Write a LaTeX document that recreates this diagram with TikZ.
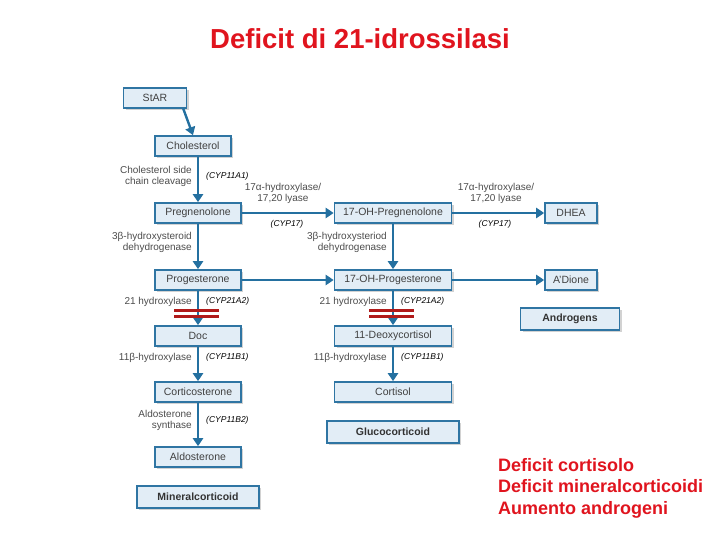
\documentclass[tikz,border=0pt]{standalone}
\usepackage{fontspec}
\setmainfont{Liberation Sans}
\usetikzlibrary{arrows.meta,shadows}
\definecolor{bx}{HTML}{E2EDF6}
\definecolor{bd}{HTML}{2F75A3}
\definecolor{ar}{HTML}{2470A0}
\definecolor{rd}{HTML}{B01A1A}
\definecolor{tr}{HTML}{E0141E}
\begin{document}
\begin{tikzpicture}[x=1pt,y=-1pt,
 box/.style={draw=bd,line width=1.6pt,fill=bx,minimum height=20pt,inner sep=0pt,font=\fontsize{10.5}{11}\selectfont,text=black!75,drop shadow={shadow xshift=2pt,shadow yshift=-2pt,fill=black!35}},
 bbox/.style={box,minimum height=22pt,font=\bfseries\fontsize{10.5}{11}\selectfont,text=black!80},
 arr/.style={-{Triangle[length=8pt,width=10pt]},ar,line width=2.4pt},
 lab/.style={font=\fontsize{10}{11}\selectfont,text=black!70,align=right,inner sep=1pt},
 labc/.style={lab,align=center},
 cyp/.style={font=\itshape\fontsize{8.5}{9}\selectfont,inner sep=1pt},
 bar/.style={rd,line width=3pt}]
\useasboundingbox (0,0) rectangle (720,540);
\node[font=\bfseries\fontsize{27.5}{29}\selectfont,text=tr] (t) at (360,39) {Deficit di 21-idrossilasi};
\node[box,minimum width=63pt] (star) at (155,98) {StAR};
\node[box,minimum width=76pt] (chol) at (193,146) {Cholesterol};
\node[box,minimum width=86pt] (preg) at (198,213) {Pregnenolone};
\node[box,minimum width=86pt] (prog) at (198,280) {Progesterone};
\node[box,minimum width=86pt] (doc) at (198,336) {Doc};
\node[box,minimum width=86pt] (cort) at (198,392) {Corticosterone};
\node[box,minimum width=86pt] (aldo) at (198,457) {Aldosterone};
\node[bbox,minimum width=122pt] (mc) at (198,497) {Mineralcorticoid};
\node[box,minimum width=117pt] (ohpreg) at (393,213) {17-OH-Pregnenolone};
\node[box,minimum width=117pt] (ohprog) at (393,280) {17-OH-Progesterone};
\node[box,minimum width=117pt] (deoxy) at (393,336) {11-Deoxycortisol};
\node[box,minimum width=117pt] (cortisol) at (393,392) {Cortisol};
\node[bbox,minimum width=132pt] (gc) at (393,432) {Glucocorticoid};
\node[box,minimum width=52pt] (dhea) at (571,213) {DHEA};
\node[box,minimum width=52pt] (adione) at (571,280) {A'Dione};
\node[bbox,minimum width=99pt] (andr) at (570,319) {Androgens};
\draw[arr] (star.south east) ++(-4,0) -- (chol.north);
\draw[arr] (chol.south) ++(5,0) coordinate (c1) -- (c1 |- preg.north);
\draw[arr] (preg) -- (prog);
\draw[arr] (prog) -- (doc);
\draw[arr] (doc) -- (cort);
\draw[arr] (cort) -- (aldo);
\draw[arr] (ohpreg) -- (ohprog);
\draw[arr] (ohprog) -- (deoxy);
\draw[arr] (deoxy) -- (cortisol);
\draw[arr] (preg) -- (ohpreg);
\draw[arr] (prog) -- (ohprog);
\draw[arr] (ohpreg) -- (dhea);
\draw[arr] (ohprog) -- (adione);
\draw[bar] (174,310) -- (219,310); \draw[bar] (174,316) -- (219,316);
\draw[bar] (369,310) -- (414,310); \draw[bar] (369,316) -- (414,316);
\node[lab,anchor=east] (l1) at (193,176) {Cholesterol side\\chain cleavage};
\node[cyp,anchor=west] (c11) at (205,176) {(CYP11A1)};
\node[labc] (l2) at (283,193) {17α-hydroxylase/\\17,20 lyase};
\node[cyp] (c2) at (287,224) {(CYP17)};
\node[labc] (l3) at (496,193) {17α-hydroxylase/\\17,20 lyase};
\node[cyp] (c3) at (495,224) {(CYP17)};
\node[lab,anchor=east] (l4) at (193,242) {3β-hydroxysteroid\\dehydrogenase};
\node[lab,anchor=east] (l5) at (388,242) {3β-hydroxysteriod\\dehydrogenase};
\node[lab,anchor=east] (l6) at (193,302) {21 hydroxylase};
\node[cyp,anchor=west] (c6) at (205,301) {(CYP21A2)};
\node[lab,anchor=east] (l7) at (388,302) {21 hydroxylase};
\node[cyp,anchor=west] (c7) at (400,301) {(CYP21A2)};
\node[lab,anchor=east] (l8) at (193,358) {11β-hydroxylase};
\node[cyp,anchor=west] (c8) at (205,357) {(CYP11B1)};
\node[lab,anchor=east] (l9) at (388,358) {11β-hydroxylase};
\node[cyp,anchor=west] (c9) at (400,357) {(CYP11B1)};
\node[lab,anchor=east] (l10) at (193,420) {Aldosterone\\synthase};
\node[cyp,anchor=west] (c10) at (205,420) {(CYP11B2)};
\node[anchor=north west,align=left,font=\bfseries\fontsize{18}{21.5}\selectfont,text=tr,inner sep=0pt] (d) at (498,458) {Deficit cortisolo\\Deficit mineralcorticoidi\\Aumento androgeni};
\end{tikzpicture}
\end{document}
